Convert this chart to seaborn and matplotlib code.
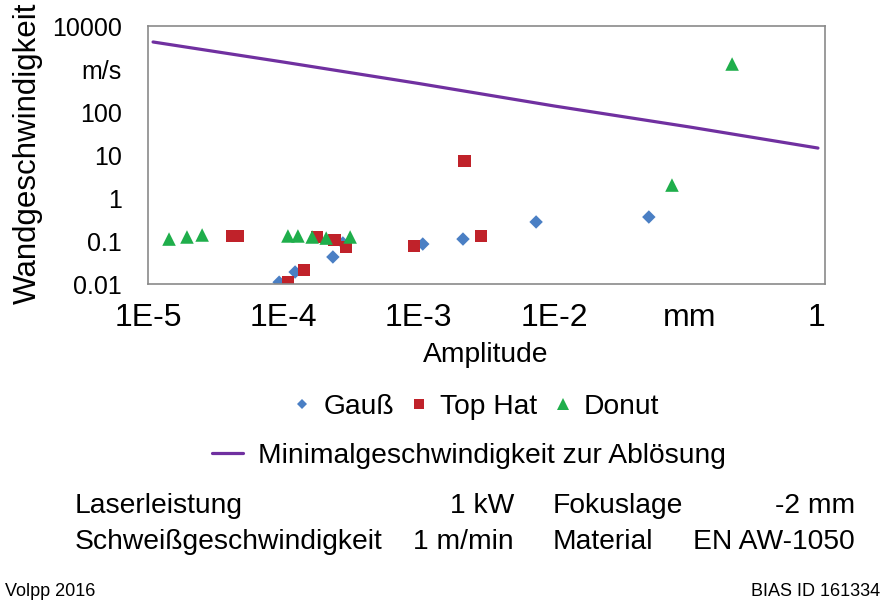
import matplotlib
matplotlib.use("Agg")
import matplotlib.pyplot as plt
import pandas as pd
import seaborn as sns
from matplotlib.lines import Line2D
from matplotlib.ticker import FixedLocator, FixedFormatter, NullLocator

# Measured wall speeds per beam profile (amplitude in mm, speed in m/s)
gauss_amp = [9.3e-5, 1.22e-4, 2.32e-4, 2.75e-4, 1.07e-3, 2.12e-3, 7.35e-3, 5.0e-2]
gauss_v = [0.011, 0.019, 0.0425, 0.09, 0.085, 0.111, 0.277, 0.361]
tophat_amp = [4.17e-5, 4.62e-5, 1.08e-4, 1.42e-4, 1.77e-4, 2.40e-4, 2.90e-4,
              9.23e-4, 2.19e-3, 2.88e-3]
tophat_v = [0.131, 0.131, 0.0111, 0.0212, 0.124, 0.105, 0.0724, 0.0765, 7.24, 0.131]
donut_amp = [1.43e-5, 1.94e-5, 2.51e-5, 1.08e-4, 1.28e-4, 1.63e-4, 2.07e-4,
             3.11e-4, 7.41e-2, 0.206]
donut_v = [0.111, 0.124, 0.138, 0.131, 0.131, 0.124, 0.117, 0.124, 2.0, 1306]

# Minimum wall speed required for detachment
limit_amp = [1.09e-5, 1e-4, 1e-3, 1e-2, 1e-1, 0.887]
limit_v = [4250, 1450, 460, 138, 44.8, 14.5]

x_ticks = [1e-5, 1e-4, 1e-3, 1e-2, 1e-1, 1]
x_labels = ["1E-5", "1E-4", "1E-3", "1E-2", "mm", "1"]
y_ticks = [0.01, 0.1, 1, 10, 100, 1000, 10000]
y_labels = ["0.01", "0.1", "1", "10", "100", "m/s", "10000"]

profiles = ["Gauß", "Top Hat", "Donut"]
colors = {"Gauß": "#4a7fc4", "Top Hat": "#c0222a", "Donut": "#1fae4b"}
markers = {"Gauß": "D", "Top Hat": "s", "Donut": "^"}
sizes = {"Gauß": 47, "Top Hat": 85, "Donut": 95}
line_color = "#7030a0"

df = pd.concat([
    pd.DataFrame({"Amplitude": gauss_amp, "Speed": gauss_v, "Profil": "Gauß"}),
    pd.DataFrame({"Amplitude": tophat_amp, "Speed": tophat_v, "Profil": "Top Hat"}),
    pd.DataFrame({"Amplitude": donut_amp, "Speed": donut_v, "Profil": "Donut"}),
], ignore_index=True)
limit_df = pd.DataFrame({"Amplitude": limit_amp, "Speed": limit_v})

sns.set_theme(style="white")
plt.rcParams["font.family"] = ["Liberation Sans", "DejaVu Sans"]
plt.rcParams["text.color"] = "black"

W, H = 887, 600
fig = plt.figure(figsize=(W / 100, H / 100), dpi=100)
ax = fig.add_axes([148 / W, 1 - 284 / H, (825 - 148) / W, (284 - 26) / H])

sns.lineplot(data=limit_df, x="Amplitude", y="Speed", color=line_color,
             linewidth=2.3, ax=ax, legend=False)
sns.scatterplot(data=df, x="Amplitude", y="Speed", hue="Profil", style="Profil",
                size="Profil", hue_order=profiles, style_order=profiles,
                size_order=profiles, palette=colors, markers=markers,
                sizes=sizes, edgecolor="none", linewidth=0, alpha=1,
                legend=False, ax=ax)

ax.set_xscale("log")
ax.set_yscale("log")
ax.set_xlim(1e-5, 1)
ax.set_ylim(0.01, 10000)
ax.xaxis.set_major_locator(FixedLocator(x_ticks))
ax.xaxis.set_major_formatter(FixedFormatter(x_labels))
ax.yaxis.set_major_locator(FixedLocator(y_ticks))
ax.yaxis.set_major_formatter(FixedFormatter(y_labels))
ax.xaxis.set_minor_locator(NullLocator())
ax.yaxis.set_minor_locator(NullLocator())
ax.set_xlabel("")
ax.set_ylabel("")

for s in ax.spines.values():
    s.set_color("#8a8a8a")
    s.set_linewidth(1.2)
ax.tick_params(axis="both", which="major", direction="in", color="#555555",
               width=1.0, length=7)
ax.tick_params(axis="y", labelsize=18, pad=19, length=7)
ax.tick_params(axis="x", labelsize=23, pad=14, length=6)
for lab in ax.get_xticklabels() + ax.get_yticklabels():
    lab.set_color("black")
ax.get_xticklabels()[-1].set_horizontalalignment("right")

fs = 20.3
fig.text(28 / W, 1 - 153 / H, "Wandgeschwindigkeit", rotation=90,
         ha="center", va="center", fontsize=22.5)
fig.text(486 / W, 1 - 355 / H, "Amplitude", ha="center", va="center", fontsize=fs)

# Legend rows
h_markers = [
    Line2D([], [], ls="none", marker="D", color=colors["Gauß"], markersize=5.5,
           markeredgewidth=0),
    Line2D([], [], ls="none", marker="s", color=colors["Top Hat"], markersize=7,
           markeredgewidth=0),
    Line2D([], [], ls="none", marker="^", color=colors["Donut"], markersize=8,
           markeredgewidth=0),
]
leg1 = fig.legend(h_markers, profiles, loc="center", ncol=3,
                  bbox_to_anchor=(475 / W, 1 - 407 / H), frameon=False,
                  fontsize=fs, handlelength=0.8, handletextpad=0.35,
                  columnspacing=0.5, borderpad=0, borderaxespad=0)
h_line = [Line2D([], [], color=line_color, linewidth=2.3)]
leg2 = fig.legend(h_line, ["Minimalgeschwindigkeit zur Ablösung"], loc="center",
                  bbox_to_anchor=(469 / W, 1 - 456 / H), frameon=False,
                  fontsize=fs, handlelength=1.1, handletextpad=0.55,
                  borderpad=0, borderaxespad=0)

# Process parameters
rows = [
    ("Laserleistung", "1 kW", "Fokuslage", "-2 mm", 513),
    ("Schweißgeschwindigkeit", "1 m/min", "Material", "EN AW-1050", 549),
]
for k1, v1, k2, v2, yb in rows:
    yy = 1 - yb / H
    fig.text(75 / W, yy, k1, ha="left", va="baseline", fontsize=fs)
    fig.text(514 / W, yy, v1, ha="right", va="baseline", fontsize=fs)
    fig.text(553 / W, yy, k2, ha="left", va="baseline", fontsize=fs)
    fig.text(855 / W, yy, v2, ha="right", va="baseline", fontsize=fs)

fig.text(5 / W, 1 - 596 / H, "Volpp 2016", ha="left", va="baseline", fontsize=13)
fig.text(880 / W, 1 - 596 / H, "BIAS ID 161334", ha="right", va="baseline",
         fontsize=13)

fig.savefig("out.png", dpi=100, facecolor="white")
